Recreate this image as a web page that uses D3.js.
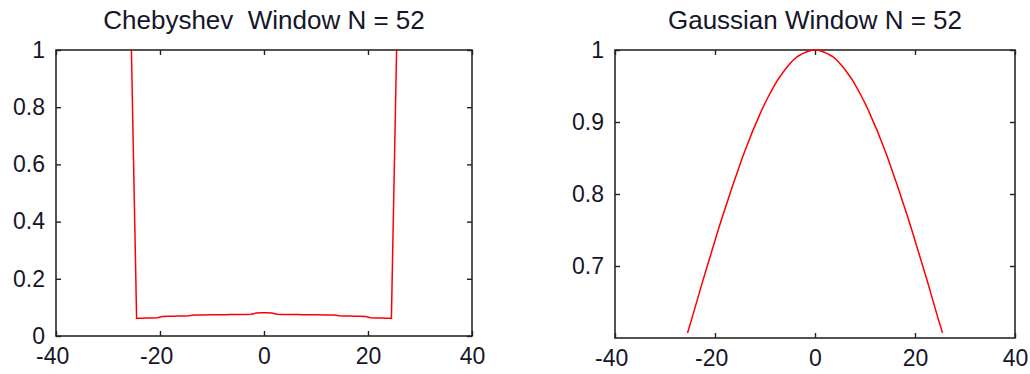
<!doctype html>
<meta charset="utf-8">
<title>window plots</title>
<script src="https://cdn.jsdelivr.net/npm/d3@7"></script>
<style>
  body { margin: 0; background: #fff; }
  text { font-family: "Liberation Sans", Arial, sans-serif; fill: #16162a; }
</style>
<body>
<svg id="fig" width="1030" height="374"></svg>
<script>

// sample positions, shared by both windows
var xs = [-25.5,-24.5,-23.5,-22.5,-21.5,-20.5,-19.5,-18.5,-17.5,-16.5,-15.5,-14.5,-13.5,
          -12.5,-11.5,-10.5,-9.5,-8.5,-7.5,-6.5,-5.5,-4.5,-3.5,-2.5,-1.5,-0.5,
          0.5,1.5,2.5,3.5,4.5,5.5,6.5,7.5,8.5,9.5,10.5,11.5,12.5,
          13.5,14.5,15.5,16.5,17.5,18.5,19.5,20.5,21.5,22.5,23.5,24.5,25.5];

// chebyshev window values
var chebVals = [1.000,0.062,0.062,0.063,0.063,0.064,0.068,0.069,0.069,0.070,0.070,0.071,0.073,
                0.073,0.073,0.074,0.074,0.074,0.074,0.075,0.075,0.075,0.075,0.076,0.080,0.081,
                0.081,0.080,0.076,0.075,0.075,0.075,0.075,0.074,0.074,0.074,0.074,0.073,0.073,
                0.073,0.071,0.070,0.070,0.069,0.069,0.068,0.064,0.063,0.063,0.062,0.062,1.000];

// gaussian window values
var gaussVals = [0.607,0.630,0.654,0.678,0.701,0.724,0.747,0.769,0.790,0.811,0.831,0.851,0.869,
                 0.887,0.903,0.919,0.933,0.946,0.958,0.968,0.977,0.985,0.991,0.995,0.998,1.000,
                 1.000,0.998,0.995,0.991,0.985,0.977,0.968,0.958,0.946,0.933,0.919,0.903,0.887,
                 0.869,0.851,0.831,0.811,0.790,0.769,0.747,0.724,0.701,0.678,0.654,0.630,0.607];

var xTicks = [-40, -20, 0, 20, 40];
var chebYTicks = [0, 0.2, 0.4, 0.6, 0.8, 1];
var gaussYTicks = [0.7, 0.8, 0.9, 1];

var titles = ["Chebyshev  Window N = 52", "Gaussian Window N = 52"];

var svg = d3.select("#fig");

// plain hyphen for negatives, like the original
function fmt(d) { return String(d); }

function panel(opts) {
  var x = d3.scaleLinear().domain([-40, 40]).range([opts.left, opts.right]);
  var y = d3.scaleLinear().domain(opts.ydom).range([opts.bottom, opts.top]);
  var g = svg.append("g");

  // box
  g.append("rect")
    .attr("x", opts.left).attr("y", opts.top)
    .attr("width", opts.right - opts.left).attr("height", opts.bottom - opts.top)
    .attr("fill", "none").attr("stroke", "#2a2a2a").attr("stroke-width", 1.6);

  // bottom axis with labels
  var ax = g.append("g").attr("transform", "translate(0," + opts.bottom + ")")
    .call(d3.axisBottom(x).tickValues(xTicks).tickSizeInner(-5).tickSizeOuter(0)
      .tickPadding(12).tickFormat(fmt));
  ax.selectAll("text").attr("dx", function(d) { return d < 0 ? "-0.17em" : 0; });

  // top ticks only
  g.append("g").attr("transform", "translate(0," + opts.top + ")")
    .call(d3.axisTop(x).tickValues(xTicks).tickSizeInner(-5).tickSizeOuter(0).tickFormat(""));

  // left axis with labels
  g.append("g").attr("transform", "translate(" + opts.left + ",0)")
    .call(d3.axisLeft(y).tickValues(opts.yticks).tickSizeInner(-5).tickSizeOuter(0)
      .tickPadding(11).tickFormat(fmt));

  // right ticks only
  g.append("g").attr("transform", "translate(" + opts.right + ",0)")
    .call(d3.axisRight(y).tickValues(opts.yticks).tickSizeInner(-5).tickSizeOuter(0).tickFormat(""));

  g.selectAll(".domain").remove();
  g.selectAll(".tick line").attr("stroke", "#222").attr("stroke-width", 1.4);
  g.selectAll(".tick text").style("font-size", "23px").attr("fill", "#16162a")
    .style("font-family", '"Liberation Sans", Arial, sans-serif');

  var pts = xs.map(function(v, i) { return [v, opts.vals[i]]; });
  g.append("path")
    .datum(pts)
    .attr("fill", "none")
    .attr("stroke", "#ff0000")
    .attr("stroke-width", 1.5)
    .attr("d", d3.line().x(function(d) { return x(d[0]); }).y(function(d) { return y(d[1]); }));

  g.append("text")
    .attr("x", (opts.left + opts.right) / 2)
    .attr("y", 29)
    .attr("text-anchor", "middle")
    .style("font-size", "26px")
    .style("white-space", "pre")
    .text(opts.title);
}

panel({ left: 56, right: 472, top: 50, bottom: 336, ydom: [0, 1], yticks: chebYTicks,
        vals: chebVals, title: titles[0] });
panel({ left: 615, right: 1015, top: 50, bottom: 338, ydom: [0.6, 1], yticks: gaussYTicks,
        vals: gaussVals, title: titles[1] });

</script>
</body>
